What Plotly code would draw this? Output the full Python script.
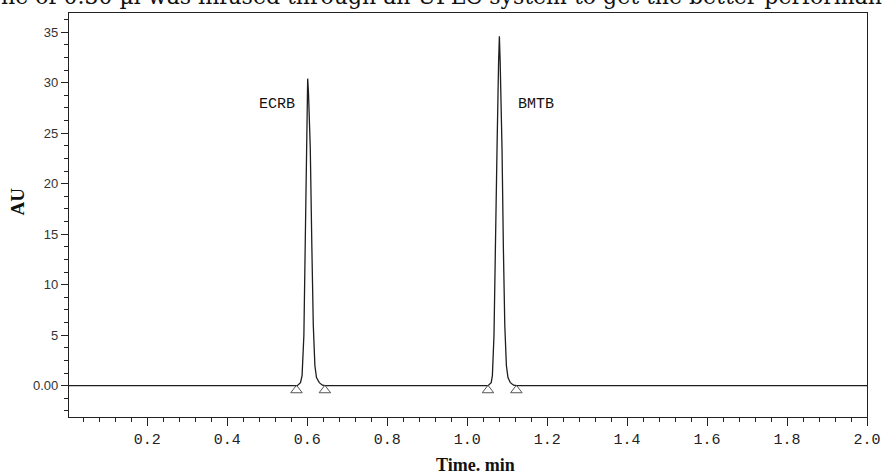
import plotly.graph_objects as go

# Chromatogram trace (time in min, response in AU)
time_min = [0.004, 0.2, 0.4, 0.575, 0.583, 0.587, 0.5915, 0.5945, 0.597, 0.5995, 0.601,
            0.603, 0.6075, 0.6115, 0.615, 0.619, 0.623, 0.630, 0.638, 0.645,
            0.8, 1.0, 1.052, 1.060, 1.063, 1.067, 1.0713, 1.0746, 1.0785, 1.0805,
            1.0825, 1.0871, 1.0905, 1.094, 1.098, 1.102, 1.108, 1.116, 1.124, 1.5, 2.0]
au = [0.0, 0.0, 0.0, 0.0, 0.3, 1.0, 5.0, 13.6, 23.5, 29.0, 30.4,
      29.0, 23.5, 13.6, 6.0, 2.0, 0.8, 0.3, 0.05, 0.0,
      0.0, 0.0, 0.0, 0.3, 1.0, 5.0, 13.6, 23.5, 32.0, 34.6,
      32.0, 23.5, 13.6, 6.0, 2.0, 0.8, 0.3, 0.05, 0.0, 0.0, 0.0]

# Integration markers (peak start / end)
marker_time = [0.573, 0.644, 1.052, 1.123]
marker_au = [-0.45, -0.45, -0.45, -0.45]

# Peak labels
peak_names = ["ECRB", "BMTB"]
peak_label_time = [0.525, 1.171]
peak_label_au = [27.8, 27.8]

x_tickvals = [0.2, 0.4, 0.6, 0.8, 1.0, 1.2, 1.4, 1.6, 1.8, 2.0]
x_ticktext = ["0.2", "0.4", "0.6", "0.8", "1.0", "1.2", "1.4", "1.6", "1.8", "2.0"]
y_tickvals = [0, 5, 10, 15, 20, 25, 30, 35]
y_ticktext = ["0.00", "5", "10", "15", "20", "25", "30", "35"]

top_text = "ne of 0.30 \u00b5l was infused through an UPLC system to get the better performance"

fig = go.Figure()
fig.add_trace(go.Scatter(x=time_min, y=au, mode="lines",
                         line=dict(color="#1e1e1e", width=1.3), showlegend=False))
fig.add_trace(go.Scatter(x=marker_time, y=marker_au, mode="markers",
                         marker=dict(symbol="triangle-up-open", size=10,
                                     color="#555555", line=dict(width=1)),
                         showlegend=False))

mono = "Courier New, Liberation Mono, monospace"
for name, tx, ty in zip(peak_names, peak_label_time, peak_label_au):
    fig.add_annotation(x=tx, y=ty, text=name, showarrow=False,
                       font=dict(family=mono, size=15, color="#111111"))

fig.add_annotation(xref="paper", yref="paper", x=-0.088, y=1.0, xanchor="left",
                   yanchor="bottom", yshift=2, text=top_text, showarrow=False,
                   font=dict(family="DejaVu Serif, serif", size=22, color="#111111"))

# axis titles placed explicitly
fig.add_annotation(xref="paper", yref="paper", x=0.51, y=-0.118, xanchor="center",
                   yanchor="middle", text="<b>Time. min</b>", showarrow=False,
                   font=dict(family="Liberation Serif, serif", size=18, color="#111"))
fig.add_annotation(xref="paper", yref="paper", x=-0.064, y=0.533, xanchor="center",
                   yanchor="middle", text="<b>AU</b>", textangle=-90, showarrow=False,
                   font=dict(family="Liberation Serif, serif", size=19, color="#111"))

fig.update_layout(
    width=882, height=473,
    margin=dict(l=69, r=15, t=13, b=56),
    paper_bgcolor="white", plot_bgcolor="white",
    xaxis=dict(range=[0.004, 2.0], tickvals=x_tickvals, ticktext=x_ticktext,
               automargin=False,
               ticks="outside", ticklen=8, tickwidth=1.2, tickcolor="#222",
               showline=True, linecolor="#222", linewidth=1.3, mirror=True,
               showgrid=False, zeroline=False,
               tickfont=dict(family=mono, size=15, color="#222"),
               minor=dict(ticks="outside", ticklen=4, dtick=0.04, tick0=0,
                          tickcolor="#222", showgrid=False)),
    yaxis=dict(range=[-3.1, 36.9], tickvals=y_tickvals, ticktext=y_ticktext,
               automargin=False,
               ticks="outside", ticklen=7, tickwidth=1.2, tickcolor="#222",
               showline=True, linecolor="#222", linewidth=1.3, mirror=True,
               showgrid=False, zeroline=False,
               tickfont=dict(family="Liberation Sans, Arial, sans-serif", size=13, color="#333"),
               minor=dict(ticks="outside", ticklen=4, dtick=1.25, tick0=0,
                          tickcolor="#222", showgrid=False)),
)

fig.write_html("out.html", config={"displayModeBar": False},
               post_script="document.body.style.margin='0';document.body.style.overflow='hidden';")
